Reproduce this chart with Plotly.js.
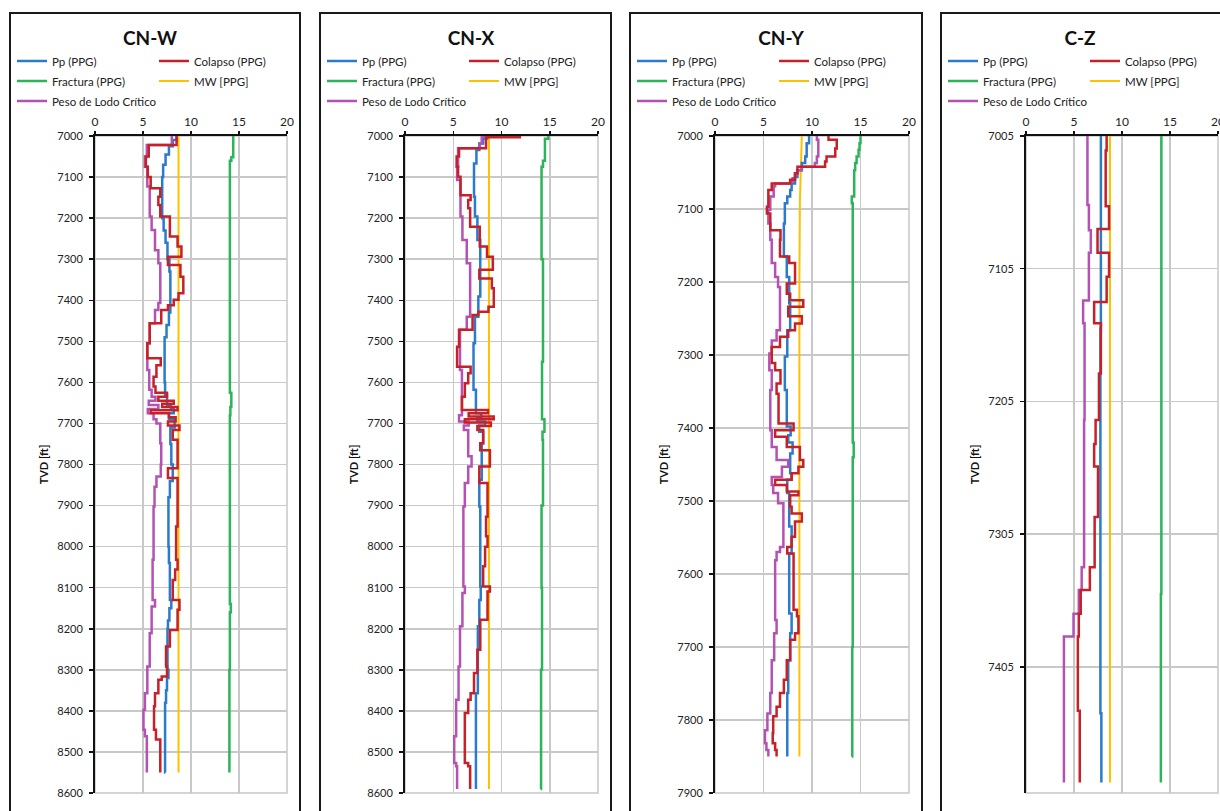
<!DOCTYPE html>
<html><head><meta charset="utf-8">
<script src="https://cdn.plot.ly/plotly-3.0.1.min.js"></script>
<style>
html,body{margin:0;padding:0;background:#fff;overflow:hidden;width:1220px;height:811px;}
.frame{position:absolute;box-sizing:border-box;border:2px solid #1a1a1a;}
.plot{position:absolute;}
</style></head><body>
<div id="f0" class="frame"></div><div id="f1" class="frame"></div><div id="f2" class="frame"></div><div id="f3" class="frame"></div>
<div id="p0" class="plot"></div><div id="p1" class="plot"></div><div id="p2" class="plot"></div><div id="p3" class="plot"></div>
<script>
// ---------- DATA: [TVD ft (start of interval), value PPG] ----------
// CN-W
const CNW_PP = [[7000,8.5],[7010,8.1],[7025,7.7],[7045,7.35],[7070,7.1],[7100,7.0],[7200,7.15],[7230,7.35],[7260,7.55],[7300,7.75],[7330,7.85],[7430,7.7],[7460,7.45],[7490,7.25],[7600,7.3],[7630,7.5],[7655,7.9],[7665,8.2],[7675,7.7],[7690,8.3],[7710,7.85],[7750,7.95],[7800,8.1],[7840,7.8],[7880,7.65],[8000,7.7],[8040,7.8],[8130,7.95],[8150,7.75],[8180,7.6],[8200,7.55],[8300,7.65],[8320,7.5],[8350,7.4],[8380,7.3],[8550,7.33]];
const CNW_COL = [[7000,8.5],[7022,5.6],[7050,5.3],[7075,5.5],[7100,5.8],[7127,6.8],[7148,6.6],[7168,6.8],[7196,7.8],[7245,8.6],[7269,9.0],[7294,7.6],[7314,8.9],[7343,9.2],[7383,8.7],[7399,8.2],[7412,7.6],[7424,6.9],[7456,5.7],[7505,5.45],[7541,6.85],[7558,6.4],[7586,6.1],[7610,6.3],[7625,7.5],[7635,6.6],[7645,8.2],[7652,7.0],[7660,8.6],[7668,5.8],[7675,7.7],[7685,8.4],[7695,7.6],[7705,8.8],[7716,8.1],[7740,8.6],[7809,7.6],[7833,8.6],[7951,8.45],[8032,8.6],[8056,8.35],[8081,8.1],[8130,8.8],[8154,8.6],[8203,7.8],[8243,7.4],[8292,7.5],[8316,6.95],[8324,6.6],[8357,6.25],[8389,6.15],[8446,6.35],[8470,6.8],[8550,6.8]];
const CNW_FRAC = [[7000,14.4],[7052,14.2],[7060,14.05],[7625,14.2],[7660,14.1],[7680,14.05],[8140,14.15],[8160,14.05],[8300,14.0],[8550,14.0]];
const CNW_MW = [[7000,8.7],[8550,8.7]];
const CNW_PESO = [[7000,8.0],[7022,5.4],[7050,5.2],[7075,5.45],[7123,5.7],[7196,5.9],[7229,6.25],[7278,6.6],[7310,6.8],[7407,6.6],[7424,6.25],[7456,5.7],[7505,5.45],[7570,5.65],[7618,5.9],[7635,6.3],[7645,5.6],[7655,6.6],[7665,5.5],[7675,6.1],[7690,6.4],[7700,6.8],[7748,6.9],[7800,6.85],[7829,6.4],[7854,6.2],[7902,6.1],[8032,6.0],[8130,6.25],[8146,5.9],[8211,5.7],[8292,5.45],[8357,5.2],[8397,5.05],[8446,5.2],[8462,5.4],[8550,5.4]];
// CN-X
const CNX_PP = [[7000,8.5],[7006,8.1],[7018,7.7],[7034,7.4],[7067,7.15],[7148,7.25],[7196,7.5],[7253,7.8],[7391,7.6],[7440,7.25],[7505,7.1],[7618,7.35],[7675,7.9],[7685,7.5],[7695,8.3],[7705,7.7],[7720,8.1],[7748,7.95],[7837,7.7],[7902,7.8],[8097,7.85],[8130,7.7],[8194,7.55],[8357,7.35],[8590,7.35]];
const CNX_COL = [[7000,11.9],[7003,8.4],[7030,5.6],[7050,5.35],[7075,5.5],[7099,5.75],[7144,6.8],[7156,6.55],[7176,6.75],[7221,7.75],[7269,8.5],[7294,9.1],[7326,7.7],[7347,9.0],[7371,9.2],[7416,8.65],[7428,7.6],[7436,7.0],[7472,5.6],[7513,5.4],[7562,6.8],[7578,6.55],[7602,6.2],[7635,5.9],[7667,8.6],[7675,6.6],[7683,9.2],[7690,6.2],[7698,8.9],[7706,7.5],[7716,8.1],[7748,7.8],[7765,8.8],[7805,7.7],[7845,8.55],[7927,8.4],[7975,8.55],[8000,8.3],[8048,8.1],[8097,8.8],[8109,8.55],[8178,7.8],[8251,7.5],[8308,7.15],[8357,6.8],[8373,6.55],[8405,6.2],[8527,6.55],[8535,6.75],[8590,6.75]];
const CNX_FRAC = [[7000,14.85],[7007,14.5],[7060,14.3],[7075,14.15],[7300,14.3],[7550,14.2],[7690,14.45],[7720,14.25],[7740,14.3],[7900,14.15],[8100,14.2],[8300,14.1],[8590,14.05]];
const CNX_MW = [[7000,8.7],[8590,8.7]];
const CNX_PESO = [[7000,9.6],[7002,7.95],[7018,7.75],[7030,5.5],[7075,5.4],[7107,5.75],[7196,5.95],[7253,6.4],[7310,6.75],[7440,6.4],[7472,5.7],[7570,5.9],[7659,5.9],[7680,5.6],[7695,6.6],[7705,6.1],[7716,6.55],[7780,6.9],[7805,6.55],[7845,6.2],[7902,6.05],[8097,6.2],[8113,5.95],[8194,5.7],[8292,5.55],[8373,5.3],[8462,5.1],[8527,5.3],[8535,5.4],[8590,5.4]];
// CN-Y
const CNY_PP = [[7000,9.7],[7010,9.45],[7028,9.3],[7037,8.95],[7047,8.5],[7056,8.25],[7065,7.9],[7074,7.75],[7083,7.45],[7092,7.2],[7120,7.1],[7165,7.4],[7193,7.65],[7229,7.75],[7266,7.45],[7302,7.2],[7348,7.4],[7398,7.8],[7410,7.55],[7420,8.0],[7435,7.75],[7462,7.9],[7471,7.45],[7489,7.65],[7535,7.9],[7572,7.65],[7654,7.9],[7681,7.75],[7718,7.55],[7763,7.45],[7850,7.45]];
const CNY_COL = [[7000,11.7],[7005,12.55],[7017,12.4],[7028,11.5],[7035,11.35],[7042,8.5],[7051,8.25],[7060,7.75],[7065,5.85],[7074,5.5],[7097,5.35],[7106,5.7],[7129,6.75],[7142,6.7],[7165,7.65],[7174,8.25],[7202,7.4],[7216,7.75],[7225,9.1],[7234,7.55],[7247,8.95],[7257,8.25],[7266,7.55],[7275,6.7],[7289,5.85],[7311,6.2],[7321,6.75],[7339,6.35],[7353,6.55],[7394,8.1],[7403,6.2],[7412,7.4],[7426,8.75],[7444,9.1],[7453,8.6],[7462,7.9],[7471,6.2],[7478,7.4],[7487,8.6],[7492,7.75],[7508,7.9],[7517,8.95],[7528,8.25],[7549,7.9],[7563,7.45],[7572,8.1],[7649,8.45],[7658,8.6],[7681,8.25],[7690,7.75],[7718,7.4],[7745,7.1],[7763,6.7],[7782,6.35],[7795,6.0],[7818,5.95],[7832,6.2],[7841,6.35],[7850,6.35]];
const CNY_FRAC = [[7000,15.0],[7010,14.9],[7019,14.8],[7028,14.6],[7037,14.45],[7047,14.35],[7083,14.1],[7092,14.2],[7420,14.3],[7440,14.2],[7600,14.2],[7700,14.15],[7850,14.1]];
const CNY_MW = [[7000,8.95],[7040,8.85],[7090,8.75],[7200,8.7],[7850,8.7]];
const CNY_PESO = [[7000,10.5],[7005,10.65],[7028,10.5],[7037,10.3],[7042,8.95],[7047,8.5],[7051,8.25],[7058,8.0],[7063,7.75],[7065,6.2],[7069,6.05],[7083,5.7],[7101,5.5],[7120,5.7],[7142,5.85],[7174,6.2],[7193,6.5],[7207,6.7],[7266,6.35],[7280,5.85],[7298,5.6],[7321,5.85],[7348,5.7],[7403,5.85],[7426,6.35],[7444,7.55],[7453,6.9],[7467,5.85],[7478,6.0],[7489,6.5],[7503,7.05],[7563,6.7],[7570,6.35],[7581,6.2],[7663,6.35],[7681,6.1],[7718,5.85],[7763,5.7],[7791,5.4],[7814,5.15],[7832,5.3],[7841,5.5],[7850,5.5]];
// C-Z
const CZ_PP = [[7005,7.8],[7150,7.75],[7440,7.85],[7492,7.85]];
const CZ_COL = [[7005,8.4],[7016,8.3],[7058,8.65],[7075,7.45],[7093,8.65],[7111,8.4],[7130,7.1],[7146,7.8],[7184,7.6],[7219,7.25],[7237,7.1],[7254,7.5],[7292,7.15],[7330,6.65],[7347,5.7],[7365,5.5],[7382,5.4],[7438,5.6],[7492,5.6]];
const CZ_FRAC = [[7005,14.1],[7350,14.05],[7492,14.05]];
const CZ_MW = [[7005,8.75],[7492,8.75]];
const CZ_PESO = [[7005,6.4],[7057,6.55],[7076,6.75],[7093,6.55],[7129,5.95],[7146,6.1],[7219,6.05],[7330,5.8],[7347,5.5],[7365,4.95],[7382,3.95],[7492,3.95]];

const PANEL_TITLES = ['CN-W', 'CN-X', 'CN-Y', 'C-Z'];
const SERIES_NAMES = ['Pp (PPG)', 'Colapso (PPG)', 'Fractura (PPG)', 'MW [PPG]', 'Peso de Lodo Crítico'];
const PANEL_DATA = [
  [CNW_PP, CNW_COL, CNW_FRAC, CNW_MW, CNW_PESO],
  [CNX_PP, CNX_COL, CNX_FRAC, CNX_MW, CNX_PESO],
  [CNY_PP, CNY_COL, CNY_FRAC, CNY_MW, CNY_PESO],
  [CZ_PP, CZ_COL, CZ_FRAC, CZ_MW, CZ_PESO]
];
const Y_RANGES = [[7000, 8600], [7000, 8600], [7000, 7900], [7005, 7500]];
const X_TICKS = [0, 5, 10, 15, 20];

// ---------- STYLE / LAYOUT ----------
const COLORS = ['#2a7bc9', '#c62028', '#2db35a', '#ffc000', '#b452b4'];
const WIDTHS = [2.5, 2.5, 2.5, 2, 2.5];
const SHAPES = ['vh', 'vh', 'vh', 'linear', 'vh'];
const LEGEND_COL = ['legend', 'legend2', 'legend', 'legend2', 'legend'];
const DRAW_ORDER = [2, 3, 0, 4, 1];
const GEOM = [
  {left: 9, width: 292, x0: 95, x20: 287, tx: 141},
  {left: 319, width: 293, x0: 405, x20: 598, tx: 152},
  {left: 629, width: 294, x0: 715, x20: 909, tx: 152},
  {left: 940, width: 292, x0: 1026, x20: 1218, tx: 140}
];
const FONT = 'Lato, "Open Sans", sans-serif';

function render(i) {
  const g = GEOM[i];
  const TOP = 12, H = 830, t = 124, ph = 657;
  const l = g.x0 - g.left, pw = g.x20 - g.x0;
  const r = g.width - l - pw, b = H - t - ph;
  const fr = document.getElementById('f' + i);
  const pd = document.getElementById('p' + i);
  [fr, pd].forEach(el => { el.style.left = g.left + 'px'; el.style.top = TOP + 'px'; el.style.width = g.width + 'px'; el.style.height = H + 'px'; });

  const traces = DRAW_ORDER.map(k => {
    const d = PANEL_DATA[i][k];
    return {
      type: 'scatter', mode: 'lines', name: SERIES_NAMES[k], legendrank: k + 1,
      legend: LEGEND_COL[k], legendgroup: 'g' + k,
      x: d.map(p => p[1]), y: d.map(p => p[0]),
      line: {color: COLORS[k], width: WIDTHS[k], shape: SHAPES[k]},
      hoverinfo: 'skip'
    };
  });
  const yr = Y_RANGES[i];
  const legBase = {orientation: 'v', xanchor: 'left', y: 1 + (t - 34.5) / ph, yanchor: 'top',
                   itemwidth: 30, tracegroupgap: 1, font: {family: FONT, size: 11.5, color: '#222'},
                   bgcolor: 'rgba(0,0,0,0)', borderwidth: 0, traceorder: 'grouped'};
  const layout = {
    width: g.width, height: H,
    margin: {l: l, r: r, t: t, b: b, pad: 0, autoexpand: false},
    paper_bgcolor: 'rgba(0,0,0,0)', plot_bgcolor: '#ffffff',
    font: {family: FONT, color: '#1e1e1e'},
    title: {text: PANEL_TITLES[i], xref: 'container', yref: 'container', x: g.tx / g.width, xanchor: 'center',
            y: 1 - 26 / H, yanchor: 'middle', font: {family: FONT, size: 19, weight: 700, color: '#111'}},
    showlegend: true,
    legend: Object.assign({}, legBase, {x: (3 - l) / pw}),
    legend2: Object.assign({}, legBase, {x: (145 - l) / pw}),
    xaxis: {range: [0, 20], side: 'top', tickvals: X_TICKS, showgrid: true, gridcolor: '#c8c8c8', gridwidth: 1.5,
            zeroline: false, showline: true, linecolor: '#111', linewidth: 2, ticks: 'outside', ticklen: 3,
            tickwidth: 1.5, tickcolor: '#111', tickfont: {family: FONT, size: 12, color: '#222'}, fixedrange: true},
    yaxis: {range: [yr[1], yr[0]], tick0: yr[0], dtick: 100, showgrid: true, gridcolor: '#c8c8c8', gridwidth: 1.5,
            zeroline: false, showline: true, linecolor: '#111', linewidth: 2, ticks: 'outside', ticklen: 4,
            tickwidth: 1.5, tickcolor: '#111', tickfont: {family: FONT, size: 11, color: '#222'},
            ticklabelstandoff: 4,
            title: {text: 'TVD [ft]', standoff: 6, font: {family: FONT, size: 11, weight: 700, color: '#111'}},
            fixedrange: true},
    shapes: [{type: 'rect', xref: 'paper', yref: 'paper', x0: 0, x1: 1, y0: 0, y1: 1,
              line: {color: '#c8c8c8', width: 1.5}, layer: 'below'}]
  };
  Plotly.newPlot(pd, traces, layout, {staticPlot: true, displayModeBar: false});
}
for (let i = 0; i < 4; i++) render(i);
</script>
</body></html>
